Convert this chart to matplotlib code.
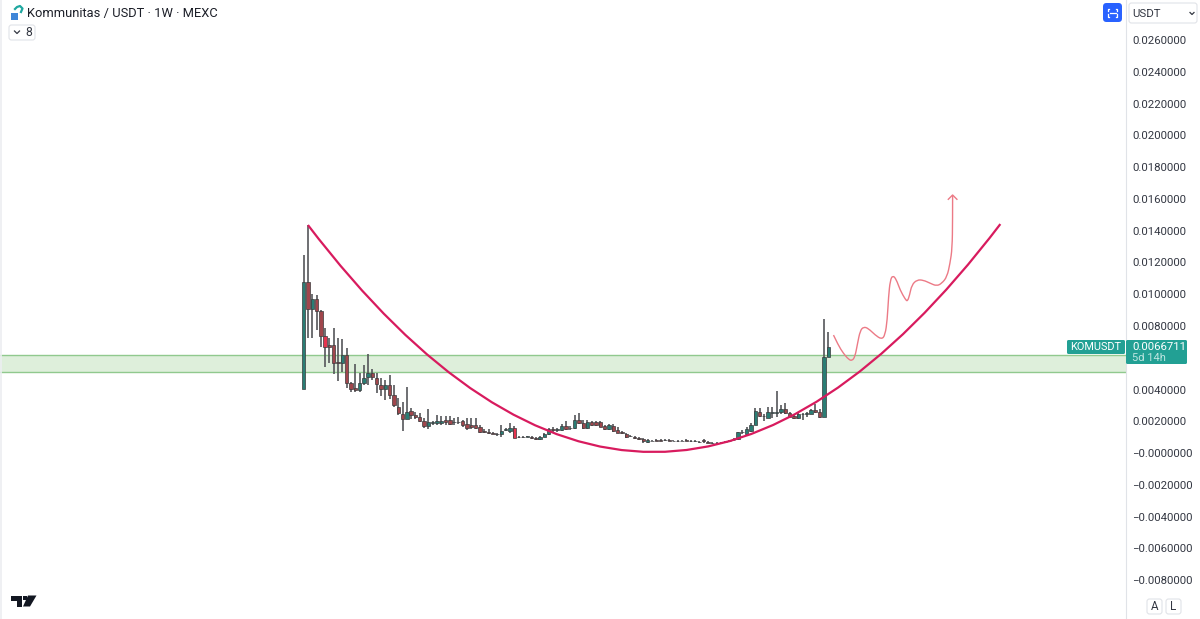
import numpy as np
import matplotlib

matplotlib.use('Agg')
from matplotlib import pyplot
from matplotlib.patches import FancyBboxPatch, PathPatch, Rectangle, Polygon
from matplotlib.path import Path
from matplotlib.ticker import FuncFormatter

pyplot.rcParams['font.family'] = ['Roboto', 'DejaVu Sans']

# prices in thousandths of a USDT, one weekly candle per entry
opens = [4.03, 10.79, 9.05, 9.68, 8.94, 7.37, 6.80, 6.80, 5.73, 5.67,
         6.17, 4.39, 4.07, 3.97, 4.43, 4.77, 5.04, 4.74, 4.30, 4.03,
         4.28, 3.65, 2.92, 2.46, 2.14, 2.66, 2.39, 2.29, 2.03, 1.70,
         1.87, 1.89, 1.92, 2.08, 2.08, 1.97, 1.97, 2.02, 1.81, 1.76,
         1.76, 1.62, 1.39, 1.30, 1.24, 1.22, 1.20, 1.45, 1.40, 1.55,
         1.02, 1.02, 1.03, 1.01, 0.94, 0.86, 1.01, 1.18, 1.49, 1.47,
         1.45, 1.72, 1.59, 1.55, 2.06, 1.89, 1.59, 1.93, 1.93, 1.93,
         1.70, 1.51, 1.72, 1.47, 1.30, 1.20, 1.09, 1.01, 0.92, 0.88,
         0.71, 0.79, 0.81, 0.81, 0.85, 0.81, 0.79, 0.75, 0.79, 0.81,
         0.77, 0.75, 0.70, 0.80, 0.68, 0.66, 0.64, 0.66, 0.70, 0.79,
         0.84, 0.86, 1.30, 1.23, 1.40, 1.76, 2.60, 2.35, 2.22, 2.52,
         2.52, 2.56, 2.79, 2.54, 2.33, 2.19, 2.44, 2.48, 2.48, 2.71,
         2.56, 2.29, 6.03]
highs = [12.47, 14.36, 9.99, 9.95, 9.00, 7.85, 7.22, 7.89, 7.22, 7.16,
         6.59, 4.49, 5.60, 5.02, 5.54, 6.22, 5.27, 5.02, 4.74, 4.60,
         4.91, 4.28, 3.44, 3.23, 4.14, 2.85, 2.60, 2.50, 2.19, 2.77,
         2.00, 2.37, 2.33, 2.33, 2.33, 2.20, 2.24, 2.08, 2.19, 2.22,
         2.19, 1.76, 1.49, 1.49, 1.32, 1.26, 1.76, 1.57, 1.87, 1.70,
         1.08, 1.08, 1.10, 1.05, 1.00, 1.10, 1.28, 1.55, 1.62, 1.60,
         1.80, 2.03, 1.68, 2.41, 2.54, 2.10, 2.06, 2.00, 2.00, 2.00,
         1.76, 1.85, 1.85, 1.62, 1.38, 1.28, 1.15, 1.07, 0.98, 0.94,
         0.86, 0.84, 0.86, 0.86, 0.90, 0.86, 0.84, 0.80, 0.84, 0.86,
         0.82, 0.80, 0.75, 0.91, 0.73, 0.71, 0.69, 0.71, 0.75, 0.84,
         0.92, 1.34, 1.45, 1.62, 1.87, 2.85, 2.85, 2.46, 2.88, 2.92,
         3.92, 3.02, 3.13, 2.60, 2.38, 2.50, 2.52, 2.56, 2.77, 3.07,
         2.77, 8.42, 7.60]
lows = [4.03, 7.26, 7.26, 7.75, 6.69, 5.44, 5.65, 4.95, 4.55, 5.12,
        4.07, 3.82, 3.86, 3.86, 4.28, 4.28, 4.60, 3.76, 3.61, 3.34,
        3.40, 2.92, 2.39, 1.40, 2.14, 2.14, 2.14, 1.93, 1.56, 1.49,
        1.75, 1.76, 1.76, 1.78, 1.76, 1.76, 1.81, 1.66, 1.45, 1.49,
        1.49, 1.28, 1.24, 1.17, 1.17, 1.10, 1.03, 1.36, 1.28, 0.96,
        0.92, 0.92, 0.98, 0.90, 0.82, 0.84, 0.98, 1.13, 1.32, 1.35,
        1.40, 1.43, 1.43, 1.49, 1.83, 1.49, 1.49, 1.70, 1.70, 1.62,
        1.47, 1.47, 1.32, 1.24, 1.17, 0.96, 0.98, 0.90, 0.82, 0.66,
        0.64, 0.73, 0.75, 0.75, 0.79, 0.75, 0.73, 0.69, 0.73, 0.75,
        0.71, 0.69, 0.64, 0.61, 0.62, 0.60, 0.58, 0.60, 0.64, 0.73,
        0.81, 0.82, 1.20, 1.11, 1.34, 1.76, 2.25, 2.03, 2.19, 2.19,
        2.29, 2.46, 2.46, 2.25, 2.17, 2.12, 2.08, 2.29, 2.44, 2.50,
        2.21, 2.29, 6.03]
closes = [10.79, 9.05, 9.68, 8.94, 7.39, 6.65, 6.67, 5.69, 5.67, 6.17,
          4.39, 4.03, 3.97, 4.39, 4.74, 5.06, 4.77, 4.33, 4.03, 4.28,
          3.67, 3.02, 2.50, 2.12, 2.60, 2.39, 2.27, 2.03, 1.70, 1.97,
          1.97, 2.03, 2.02, 1.95, 1.85, 1.93, 1.93, 1.76, 1.59, 1.62,
          1.60, 1.34, 1.34, 1.26, 1.20, 1.17, 1.40, 1.49, 1.55, 0.96,
          0.98, 0.98, 1.07, 0.97, 0.90, 1.03, 1.18, 1.49, 1.45, 1.51,
          1.72, 1.49, 1.55, 2.06, 1.87, 1.55, 1.93, 1.74, 1.76, 1.66,
          1.51, 1.75, 1.40, 1.28, 1.26, 1.00, 1.05, 0.97, 0.88, 0.74,
          0.80, 0.77, 0.79, 0.79, 0.83, 0.79, 0.77, 0.73, 0.77, 0.79,
          0.75, 0.73, 0.68, 0.76, 0.66, 0.64, 0.62, 0.64, 0.68, 0.77,
          0.85, 1.30, 1.34, 1.49, 1.76, 2.64, 2.35, 2.31, 2.60, 2.60,
          2.56, 2.77, 2.54, 2.29, 2.19, 2.44, 2.48, 2.52, 2.69, 2.56,
          2.29, 6.03, 6.67]
bright_red = [5, 49]

zone_low = 5.10
zone_high = 6.20
last_price = '0.0066711'
countdown = '5d 14h'
symbol = 'KOMUSDT'
title = 'Kommunitas / USDT \u00b7 1W \u00b7 MEXC'
# 6 sits under the last price tag in the picture
price_ticks = [-8, -6, -4, -2, 0, 2, 4, 8, 10, 12, 14, 16, 18, 20, 22, 24, 26]

# big rounding curve: start, control, end as (bar, price)
curve_bars = [1.0, 81.5, 162.0]
curve_prices = [14.36, -14.26, 14.42]

# hand drawn projection
sketch_bars = [123.2, 124.3, 125.5, 126.7, 127.5, 128.2, 128.8, 129.4, 130.2, 131.3,
               132.9, 134.4, 135.2, 135.7, 136.0, 136.4, 137.0, 137.8, 138.7, 139.9,
               140.4, 140.9, 141.4, 142.6, 144.1, 145.7, 147.2, 148.4, 149.6, 150.3,
               150.8, 150.9, 150.9]
sketch_prices = [7.43, 6.80, 6.28, 5.90, 5.81, 6.06, 6.91, 7.70, 7.95, 7.85,
                 7.43, 7.16, 7.43, 8.38, 9.84, 10.89, 11.19, 10.94, 10.26, 9.68,
                 9.55, 9.95, 10.58, 10.91, 10.89, 10.69, 10.52, 10.69, 11.10, 11.95,
                 12.89, 14.67, 16.25]
arrow_bars = [149.9, 150.9, 151.9]
arrow_prices = [15.98, 16.25, 15.98]

GREEN = '#2a7d74'
RED = '#a0464c'
TEXT = '#333742'
TEAL = '#22a094'
BORDER = '#e0e3e8'


def price_label(v, pos):
    if abs(v) < 1e-9:
        return '\u22120.0000000'
    s = '{:.7f}'.format(abs(v) / 1000)
    return ('\u2212' + s) if v < 0 else s


fig = pyplot.figure(figsize=(12, 6.19), dpi=100, facecolor='white')
ax = fig.add_axes([0, 0, 1125.5 / 1200, 1])
ax.set_xlim(-70.6, 191.1)
ax.set_ylim(-10.45, 28.53)
for s in ['top', 'bottom', 'left']:
    ax.spines[s].set_visible(False)
ax.spines['right'].set_color(BORDER)
ax.xaxis.set_visible(False)
ax.yaxis.tick_right()
ax.set_yticks(price_ticks)
ax.yaxis.set_major_formatter(FuncFormatter(price_label))
ax.tick_params(axis='y', length=0, pad=4.6, labelsize=8.2, labelcolor=TEXT)

# support zone
ax.axhspan(zone_low, zone_high, facecolor='#deefdb', edgecolor='none', zorder=1)
ax.axhline(zone_high, color='#90c98e', lw=1, zorder=1.5)
ax.axhline(zone_low, color='#90c98e', lw=1, zorder=1.5)

# candles
bars = np.arange(len(opens))
opens_a = np.array(opens)
closes_a = np.array(closes)
ax.vlines(bars, lows, highs, color='#55565a', lw=1.2, zorder=2)
tops = np.maximum(opens_a, closes_a)
bottoms = np.minimum(opens_a, closes_a)
colors = [GREEN if c > o else RED for o, c in zip(opens, closes)]
for i in bright_red:
    colors[i] = '#e5344f'
ax.bar(bars, tops - bottoms, bottom=bottoms, width=0.78, color=colors,
       edgecolor='#3a3a3c', linewidth=0.5, zorder=3)

# rounding curve
curve = Path(list(zip(curve_bars, curve_prices)), [Path.MOVETO, Path.CURVE3, Path.CURVE3])
ax.add_patch(PathPatch(curve, facecolor='none', edgecolor='#d81b5e', lw=1.6, zorder=4))

# sketch, smoothed through midpoints
pts = list(zip(sketch_bars, sketch_prices))
verts = [pts[0]]
codes = [Path.MOVETO]
for a, b in zip(pts[1:-2], pts[2:-1]):
    verts += [a, ((a[0] + b[0]) / 2, (a[1] + b[1]) / 2)]
    codes += [Path.CURVE3, Path.CURVE3]
verts += [pts[-2], pts[-1]]
codes += [Path.CURVE3, Path.CURVE3]
ax.add_patch(PathPatch(Path(verts, codes), facecolor='none', edgecolor='#ec7a86', lw=1.0, zorder=4))
ax.plot(arrow_bars, arrow_prices, color='#ec7a86', lw=1.0, zorder=4)

# interface furniture, pixel coordinates
ui = fig.add_axes([0, 0, 1, 1], facecolor='none')
ui.set_xlim(0, 1200)
ui.set_ylim(619, 0)
ui.axis('off')


def box(x, y, w, h, fc, ec='none', r=2.5, lw=0.8, z=5):
    ui.add_patch(FancyBboxPatch((x + r, y + r), w - 2 * r, h - 2 * r,
                                boxstyle='round,pad=%f,rounding_size=%f' % (r, r),
                                facecolor=fc, edgecolor=ec, lw=lw, zorder=z))


ui.plot([1, 1], [0, 619], color='#eceef1', lw=1.2)

# coin logo and title
ui.add_patch(Rectangle((11, 13), 7, 7, facecolor='#3f86d8', edgecolor='none'))
ui.plot([15, 17, 20, 22.5, 21], [9, 7, 6, 8.5, 12], color='#1fa8a0', lw=1.6)
ui.text(27, 13.5, title, fontsize=9.25, color='#1c1f28', va='center', ha='left', zorder=6)

box(9, 25, 26, 15, 'white', ec=BORDER)
ui.plot([14.5, 17, 19.5], [31, 33.5, 31], color=TEXT, lw=0.9, zorder=6)
ui.text(25, 32.5, '8', fontsize=8.8, color=TEXT, va='center', ha='left', zorder=6)

# blue button and currency menu
box(1103, 3, 19, 19, '#2962ff', r=3.5)
ui.plot([1109, 1108, 1108], [8.5, 8.5, 11], color='white', lw=0.9, zorder=6)
ui.plot([1116, 1117, 1117], [8.5, 8.5, 11], color='white', lw=0.9, zorder=6)
ui.plot([1108, 1108, 1109], [14, 16.5, 16.5], color='white', lw=0.9, zorder=6)
ui.plot([1117, 1117, 1116], [14, 16.5, 16.5], color='white', lw=0.9, zorder=6)
ui.plot([1109.5, 1115.5], [12.5, 12.5], color='white', lw=0.9, zorder=6)
box(1129, 3, 68, 20, 'white', ec=BORDER)
ui.text(1132.5, 13.8, 'USDT', fontsize=8.2, color=TEXT, va='center', ha='left', zorder=6)
ui.plot([1190, 1192, 1194], [12.5, 14.5, 12.5], color=TEXT, lw=0.9, zorder=6)

# last price tags
box(1067, 340, 58, 14, TEAL, r=1.5)
ui.text(1096, 347.2, symbol, fontsize=7.9, color='white', va='center', ha='center', zorder=6)
box(1126, 340, 61, 24, TEAL, r=1.5)
ui.text(1132.5, 347, last_price, fontsize=8.2, color='white', va='center', ha='left', zorder=6)
ui.text(1132.5, 358, countdown, fontsize=8.0, color='#bfe6e1', va='center', ha='left', zorder=6)

# scale buttons
box(1147, 599, 15, 15, 'white', ec=BORDER)
ui.text(1154.5, 607, 'A', fontsize=8.4, color=TEXT, va='center', ha='center', zorder=6)
box(1166, 599, 15, 15, 'white', ec=BORDER)
ui.text(1173.5, 607, 'L', fontsize=8.4, color=TEXT, va='center', ha='center', zorder=6)

# chart library mark
ui.add_patch(Polygon([(11, 595.5), (22, 595.5), (22, 606.5), (17, 606.5), (17, 600.5), (11, 600.5)],
                     facecolor='#131722', edgecolor='none'))
ui.add_patch(Polygon([(28, 595.5), (36.5, 595.5), (30, 606.5), (23, 606.5)],
                     facecolor='#131722', edgecolor='none'))
ui.add_patch(Polygon([(22.5, 595.5), (26.5, 595.5), (26.5, 599.5), (22.5, 599.5)],
                     facecolor='#131722', edgecolor='none'))

fig.savefig('out.png', dpi=100)
